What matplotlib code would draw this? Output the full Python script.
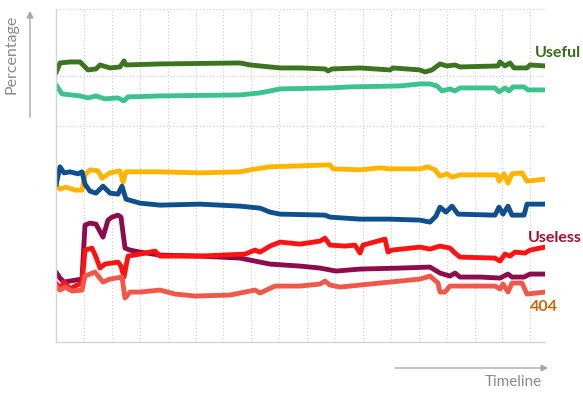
import matplotlib
matplotlib.use("Agg")
import matplotlib.pyplot as plt

plt.rcParams['font.family'] = ['Lato', 'DejaVu Sans']

# ---- data (time steps, percentage) ----
useful_t = [0, 4, 14, 24, 32, 40, 44, 54, 64, 68, 70, 104, 184, 194, 204, 224, 244, 269, 272, 276,
            304, 334, 337, 364, 369, 376, 384, 391, 399, 404, 442, 444, 449, 454, 458, 471, 474, 489]
useful_v = [80.8, 83.8, 84.1, 84.1, 81.7, 82.0, 83.2, 82.3, 82.6, 84.4, 83.2, 83.5, 83.8, 83.2, 82.9, 82.3, 82.3, 82.0, 81.4, 82.0,
            82.3, 81.7, 82.3, 81.7, 81.1, 81.7, 83.5, 82.9, 83.2, 82.6, 82.9, 84.1, 82.9, 83.8, 82.3, 82.3, 83.2, 82.9]

teal_t = [0, 6, 24, 32, 40, 49, 62, 68, 72, 104, 184, 204, 224, 274, 294, 344, 364, 374, 381, 386,
          394, 399, 404, 439, 443, 449, 453, 457, 468, 472, 489]
teal_v = [77.2, 74.5, 73.9, 73.3, 73.9, 73.0, 73.3, 72.4, 73.6, 73.9, 74.2, 74.8, 76.0, 76.3, 76.6, 76.9, 77.5, 77.5, 76.9, 75.4,
          76.0, 75.4, 76.3, 76.3, 75.1, 76.3, 75.4, 76.6, 76.6, 75.7, 75.7]

orange_t = [0, 4, 10, 19, 26, 29, 34, 42, 46, 54, 64, 67, 70, 104, 144, 184, 194, 214, 244, 274, 277,
            304, 324, 334, 364, 372, 379, 384, 391, 396, 404, 441, 443, 448, 452, 456, 466, 471, 489]
orange_v = [47.1, 45.9, 46.5, 45.6, 45.6, 50.2, 51.7, 51.4, 49.2, 50.8, 51.4, 48.0, 51.1, 51.1, 50.8, 51.1, 51.7, 52.6, 52.9, 53.2, 52.0,
            51.7, 52.3, 52.0, 52.0, 52.6, 51.7, 49.8, 50.5, 49.5, 50.2, 50.2, 48.3, 50.5, 47.7, 50.5, 50.8, 48.3, 48.9]

blue_t = [0, 4, 8, 14, 22, 26, 29, 34, 40, 47, 54, 62, 66, 70, 84, 104, 144, 184, 204, 214, 224, 269, 274,
          304, 334, 364, 374, 380, 384, 390, 396, 402, 439, 443, 447, 452, 456, 468, 471, 489]
blue_v = [47.1, 52.6, 50.8, 51.1, 50.5, 51.1, 47.4, 45.3, 44.7, 46.8, 44.7, 44.4, 46.8, 42.9, 41.7, 41.1, 41.4, 40.8, 40.2, 39.0, 38.4, 38.1, 37.5,
          36.9, 36.9, 36.6, 36.0, 37.8, 40.5, 39.0, 40.8, 38.4, 38.1, 40.5, 38.4, 40.8, 38.1, 38.1, 41.4, 41.4]

maroon_t = [0, 4, 8, 14, 26, 29, 34, 40, 47, 52, 56, 62, 65, 69, 74, 84, 104, 144, 184, 204, 214, 244, 264, 280,
            304, 344, 374, 384, 394, 399, 404, 424, 444, 452, 456, 468, 474, 489]
maroon_v = [21.0, 19.2, 18.0, 18.3, 18.9, 35.1, 35.7, 35.4, 31.5, 36.6, 37.5, 38.1, 37.5, 28.2, 27.6, 27.0, 26.1, 25.8, 25.2, 24.0, 23.4, 22.8, 22.2, 21.3,
            21.9, 22.2, 22.5, 20.7, 19.8, 20.7, 19.5, 19.5, 19.2, 20.4, 19.5, 19.5, 20.4, 20.4]

useless_t = [0, 4, 8, 14, 19, 26, 29, 36, 40, 44, 49, 62, 65, 68, 72, 84, 99, 104, 144, 189, 199, 204, 214, 224, 244,
             264, 269, 274, 289, 299, 304, 307, 329, 332, 336, 364, 374, 384, 394, 399, 404, 439, 444, 449, 454, 459, 469, 474, 489]
useless_v = [17.7, 15.9, 18.0, 15.9, 16.8, 17.7, 27.6, 28.2, 25.5, 22.2, 23.4, 24.0, 22.8, 19.5, 25.8, 26.4, 27.3, 25.8, 25.8, 26.4, 27.6, 27.0, 28.8, 30.0, 29.4,
             30.3, 31.2, 29.1, 28.8, 29.1, 26.7, 29.1, 30.9, 27.0, 27.6, 28.5, 27.9, 28.8, 28.2, 26.7, 25.5, 25.2, 24.3, 26.4, 25.8, 27.0, 26.7, 27.6, 28.5]

e404_t = [0, 4, 9, 16, 26, 29, 39, 47, 54, 66, 69, 74, 84, 104, 119, 139, 174, 189, 199, 204, 219, 244, 264, 269, 274, 284,
          324, 364, 374, 382, 384, 389, 394, 404, 439, 444, 447, 452, 456, 466, 471, 489]
e404_v = [16.8, 15.6, 16.5, 15.3, 15.6, 19.8, 21.0, 18.0, 18.9, 19.5, 13.2, 15.0, 15.0, 15.6, 14.4, 13.8, 14.1, 15.0, 15.6, 14.7, 16.8, 16.8, 17.4, 18.3, 17.1, 16.5,
          17.7, 18.9, 19.8, 17.7, 15.0, 15.0, 16.8, 16.8, 16.8, 15.9, 17.4, 15.0, 17.7, 17.7, 14.4, 15.0]

series = [
    (useful_t, useful_v, '#3b7520'),
    (teal_t, teal_v, '#3cc28c'),
    (orange_t, orange_v, '#ffb400'),
    (blue_t, blue_v, '#0e4f8e'),
    (maroon_t, maroon_v, '#8c0c4c'),
    (useless_t, useless_v, '#ff1212'),
    (e404_t, e404_v, '#f0584c'),
]

label_names = ['Useful', 'Useless', '404']

W, H = 583, 397
fig = plt.figure(figsize=(W / 100, H / 100), dpi=100)
ax = fig.add_axes([56 / W, 1 - 342 / H, (545 - 56) / W, (342 - 9) / H])
ax.set_xlim(0, 489)
ax.set_ylim(0, 100)

# grid
for k in range(1, 18):
    ax.axvline(k * 27.9, color='#c8c8c8', lw=0.8, ls=(0, (1, 2)), zorder=0)
for yv in [100, 80, 65]:
    ax.axhline(yv, color='#c8c8c8', lw=0.8, ls=(0, (1, 2)), zorder=0)

for t, v, c in series:
    ax.plot(t, v, color=c, lw=3.5, solid_joinstyle='round', solid_capstyle='round')

for s in ['top', 'right']:
    ax.spines[s].set_visible(False)
for s in ['left', 'bottom']:
    ax.spines[s].set_color('#d4d4d4')
    ax.spines[s].set_linewidth(1.0)
ax.set_xticks([])
ax.set_yticks([])
ax.patch.set_alpha(0)


def fx(px):
    return px / W


def fy(py):
    return 1 - py / H


fig.text(fx(535), fy(53), label_names[0], color='#3b6b1c', fontsize=11.5, fontweight='bold', va='center', ha='left')
fig.text(fx(528), fy(238), label_names[1], color='#a3102e', fontsize=11.5, fontweight='bold', va='center', ha='left')
fig.text(fx(530), fy(307), label_names[2], color='#c8680c', fontsize=11.5, fontweight='bold', va='center', ha='left')

fig.text(fx(12), fy(54), 'Percentage', color='#8a8a8a', fontsize=11.5, rotation=90, va='center', ha='center')
fig.text(fx(542), fy(382), 'Timeline', color='#8a8a8a', fontsize=11, va='center', ha='right')

fig.add_artist(matplotlib.patches.FancyArrowPatch((fx(30), fy(120)), (fx(30), fy(8)), transform=fig.transFigure,
                                                  arrowstyle='-|>,head_length=4,head_width=2', color='#a8a8a8', lw=1.0))
fig.add_artist(matplotlib.patches.FancyArrowPatch((fx(392), fy(368)), (fx(551), fy(368)), transform=fig.transFigure,
                                                  arrowstyle='-|>,head_length=4,head_width=2', color='#a8a8a8', lw=1.0))

fig.savefig('out.png', dpi=100, facecolor='white')
